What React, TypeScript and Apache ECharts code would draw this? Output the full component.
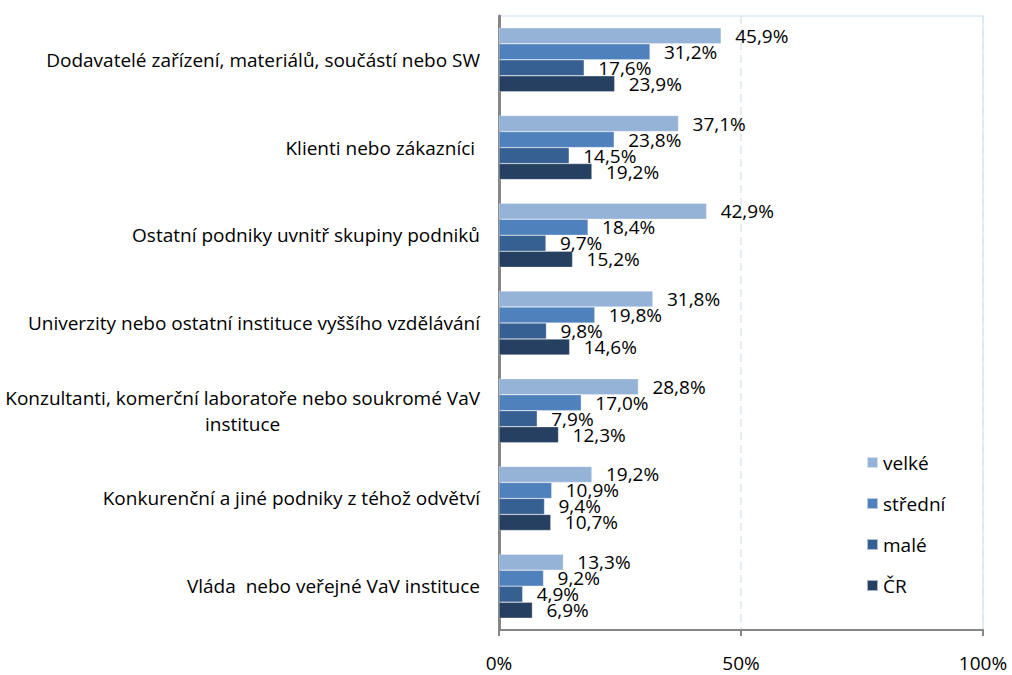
import React, { useEffect, useRef } from "react";
import * as echarts from "echarts";

const categories = [
  "Dodavatelé zařízení, materiálů, součástí nebo SW",
  "Klienti nebo zákazníci ",
  "Ostatní podniky uvnitř skupiny podniků",
  "Univerzity nebo ostatní instituce vyššího vzdělávání",
  "Konzultanti, komerční laboratoře nebo soukromé VaV\ninstituce",
  "Konkurenční a jiné podniky z téhož odvětví",
  "Vláda  nebo veřejné VaV instituce",
];
const seriesNames = ["velké", "střední", "malé", "ČR"];
const velke = [45.9, 37.1, 42.9, 31.8, 28.8, 19.2, 13.3];
const stredni = [31.2, 23.8, 18.4, 19.8, 17.0, 10.9, 9.2];
const male = [17.6, 14.5, 9.7, 9.8, 7.9, 9.4, 4.9];
const cr = [23.9, 19.2, 15.2, 14.6, 12.3, 10.7, 6.9];
const xTicks = [0, 50, 100];

const colors = ["#95B3D7", "#4F81BD", "#376092", "#254061"];
const FONT = "'Open Sans', 'Noto Sans', sans-serif";
const FS = 19;

export default function App() {
  const ref = useRef<HTMLDivElement>(null);
  useEffect(() => {
    if (!ref.current) return;
    const chart = echarts.init(ref.current, undefined, { renderer: "svg" });
    const data = [velke, stredni, male, cr];
    chart.setOption({
      animation: false,
      textStyle: { fontFamily: FONT },
      grid: {
        left: 499,
        right: 29,
        top: 16,
        bottom: 45,
        show: true,
        borderColor: "#DCE6F2",
        borderWidth: 1.5,
      },
      legend: {
        orient: "vertical",
        left: 861,
        top: 448,
        itemWidth: 11,
        itemHeight: 11,
        itemGap: 22,
        icon: "rect",
        textStyle: { fontSize: FS, color: "#000", fontFamily: FONT },
        data: seriesNames,
      },
      xAxis: {
        type: "value",
        min: 0,
        max: 100,
        interval: 50,
        axisLine: { show: true, lineStyle: { color: "#868686", width: 2 } },
        axisTick: { show: true, length: 6, lineStyle: { color: "#868686", width: 2 } },
        axisLabel: {
          margin: 23,
          fontSize: FS,
          color: "#000",
          fontFamily: FONT,
          formatter: (v: number) => (xTicks.includes(v) ? v + "%" : ""),
        },
        splitLine: { show: true, lineStyle: { color: "#DCE6F2", width: 1.5, type: [8, 5] } },
      },
      yAxis: {
        type: "category",
        data: categories,
        inverse: true,
        axisLine: { show: true, lineStyle: { color: "#868686", width: 3 } },
        axisTick: { show: false },
        axisLabel: {
          margin: 19,
          fontSize: FS,
          color: "#000",
          fontFamily: FONT,
          lineHeight: 26,
          formatter: (v: string) =>
            v
              .split("\n")
              .map((l) => "{c|" + l + "}")
              .join("\n"),
          rich: { c: { align: "center", fontSize: FS, lineHeight: 26, fontFamily: FONT, color: "#000" } },
        },
      },
      series: seriesNames.map((name, i) => ({
        name,
        type: "bar",
        data: data[i],
        barGap: "0%",
        barCategoryGap: "27%",
        itemStyle: { color: colors[i], borderColor: "rgba(255,255,255,0.6)", borderWidth: 0.5 },
        label: {
          show: true,
          position: "right",
          distance: 14,
          fontSize: FS,
          color: "#000",
          fontFamily: FONT,
          formatter: (p: any) => p.value.toFixed(1).replace(".", ",") + "%",
        },
      })),
    });
    return () => chart.dispose();
  }, []);
  return <div ref={ref} style={{ width: 1012, height: 675, position: "absolute", left: 0, top: 0, background: "#fff" }} />;
}
